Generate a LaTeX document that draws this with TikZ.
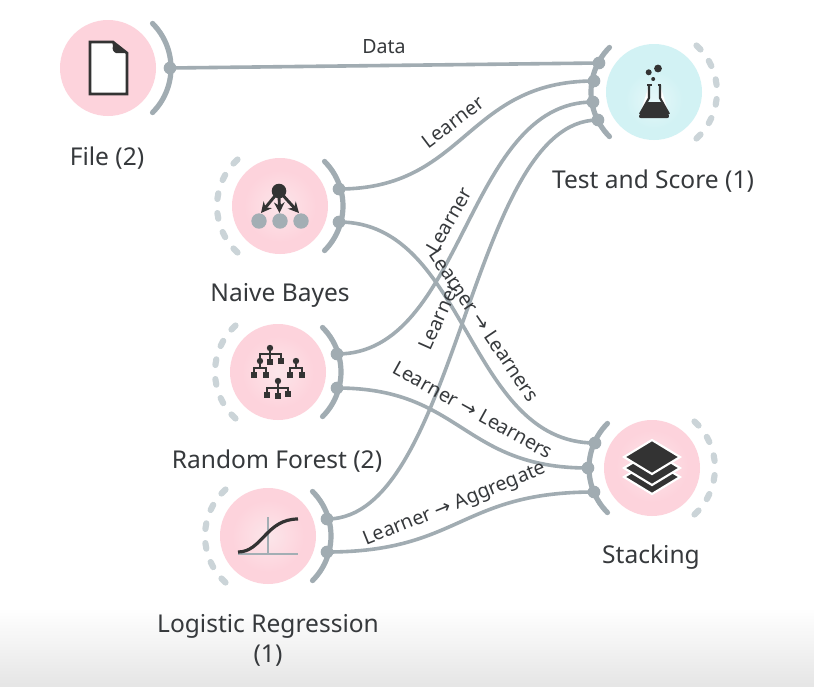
\documentclass[tikz,border=0pt]{standalone}
\usepackage{fontspec}
\usetikzlibrary{arrows.meta}
\setmainfont{Noto Sans}
\newfontfamily\arrowfont{DejaVu Sans}
\definecolor{pinkc}{HTML}{FDD3DC}
\definecolor{pinkl}{HTML}{FCE6EA}
\definecolor{cyanc}{HTML}{D2F2F4}
\definecolor{cyanl}{HTML}{E6F8F9}
\definecolor{linec}{HTML}{A1ACB2}
\definecolor{ghostc}{HTML}{CBD4D8}
\definecolor{inkc}{HTML}{333333}
\definecolor{textc}{HTML}{36393C}
\definecolor{iconc}{HTML}{A3AEB4}
\tikzset{
  x=0.75pt,y=-0.75pt,
  bracket/.style={draw=linec,line width=3.9pt,line cap=round},
  ghost/.style={draw=ghostc,line width=4.6pt,line cap=round},
  port/.style={circle,fill=linec,inner sep=0pt,minimum size=9.5pt},
  wire/.style={draw=linec,line width=2.7pt},
  title/.style={text=textc,font=\fontsize{18.4}{22}\selectfont,align=center,inner sep=0pt},
  edgelabel/.style={text=textc,font=\fontsize{14.7}{17}\selectfont,inner sep=0pt},
  disc/.style={circle,inner sep=0pt,minimum size=72pt},
  leaf/.style={fill=inkc,draw=none},
  branch/.style={draw=inkc,line width=1pt},
  axisline/.style={draw=iconc,line width=2.2pt},
}
\newcommand\lrn{Learner {\arrowfont\char"2192} }
\newcommand\arcR[2]{\draw[bracket] plot[domain=-45:45,samples=25,smooth] ({#1+63*cos(\x)},{#2+63*sin(\x)});}
\newcommand\arcL[2]{\draw[bracket] plot[domain=135:225,samples=25,smooth] ({#1+63*cos(\x)},{#2+63*sin(\x)});}
\newcommand\ghostarc[3]{\foreach \a in {#3}{\draw[ghost] ({#1+63*cos(\a-2.6)},{#2+63*sin(\a-2.6)}) -- ({#1+63*cos(\a+2.6)},{#2+63*sin(\a+2.6)});}}
\newcommand\sq[2]{\fill[leaf] (#1-3.2,#2-3.2) rectangle (#1+3.2,#2+3.2);}
\newcommand\dotp[2]{\fill[leaf] (#1,#2) circle[radius=3.2];}
\begin{document}
\begin{tikzpicture}
\useasboundingbox (0,0) rectangle (814,686);
\fill[white] (0,0) rectangle (814,686);
\shade[top color=white,bottom color=white!90!black] (0,608) rectangle (814,686);

% discs
\node[disc,fill=pinkc] (file) at (108,68) {};
\node[disc,fill=pinkc] (nb) at (280,206) {};
\node[disc,fill=pinkc] (rf) at (278,372) {};
\node[disc,fill=pinkc] (lr) at (268,536) {};
\node[disc,fill=cyanc] (ts) at (654,92) {};
\node[disc,fill=pinkc] (st) at (652,468) {};
\shade[inner color=pinkl,outer color=pinkc] (280,206) circle[radius=36];
\shade[inner color=pinkl,outer color=pinkc] (278,372) circle[radius=36];
\shade[inner color=pinkl,outer color=pinkc] (268,536) circle[radius=36];
\shade[inner color=cyanl,outer color=cyanc] (654,100) circle[radius=29];
\shade[inner color=pinkl,outer color=pinkc] (652,466) circle[radius=36];

% brackets
\arcR{108}{68}
\arcR{280}{206}
\arcR{278}{372}
\arcR{268}{536}
\arcL{654}{92}
\arcL{652}{468}
\ghostarc{280}{206}{135,153,171,189,207,225}
\ghostarc{278}{372}{135,153,171,189,207,225}
\ghostarc{268}{536}{135,153,171,189,207,225}
\ghostarc{654}{92}{-45,-27,-9,9,27,45}
\ghostarc{652}{468}{-45,-27,-9,9,27,45}

% ports
\node[port] (fileout) at (170,68) {};
\node[port] (nbone) at (339,189) {};
\node[port] (nbtwo) at (339,222) {};
\node[port] (rfone) at (337,354) {};
\node[port] (rftwo) at (337,388) {};
\node[port] (lrone) at (327,519) {};
\node[port] (lrtwo) at (327,552) {};
\node[port] (tsa) at (599,63) {};
\node[port] (tsb) at (594,81) {};
\node[port] (tsc) at (593,102) {};
\node[port] (tsd) at (598,120) {};
\node[port] (sta) at (595,443) {};
\node[port] (stb) at (588,468) {};
\node[port] (stc) at (594,492) {};

% connectors
\draw[wire] (fileout.center) -- (tsa.center);
\draw[wire] (nbone.center) .. controls (466,189) and (466,81) .. (tsb.center);
\draw[wire] (rfone.center) .. controls (465,354) and (465,102) .. (tsc.center);
\draw[wire] (lrone.center) .. controls (458,519) and (470,120) .. (tsd.center);
\draw[wire] (nbtwo.center) .. controls (467,222) and (467,443) .. (sta.center);
\draw[wire] (rftwo.center) .. controls (462,388) and (462,468) .. (stb.center);
\draw[wire] (lrtwo.center) .. controls (460,552) and (460,492) .. (stc.center);

% connector labels
\node[edgelabel] (ldata) at (384,47) {Data};
\node[edgelabel,rotate=37] (lnb) at (453,122) {Learner};
\node[edgelabel,rotate=60] (lrf) at (449,220) {Learner};
\node[edgelabel,rotate=-56] (lnbst) at (484,325) {\lrn Learners};
\node[edgelabel,rotate=66] (llr) at (439,316) {Learner};
\node[edgelabel,rotate=-29] (lrfst) at (473,410) {\lrn Learners};
\node[edgelabel,rotate=22] (lagg) at (455,505) {\lrn Aggregate};

% titles
\node[title] (tfile) at (107,158) {File (2)};
\node[title] (tnb) at (280,295) {Naive Bayes};
\node[title] (trf) at (277,461) {Random Forest (2)};
\node[title] (tlr) at (268,640) {Logistic Regression\\[0.6pt](1)};
\node[title] (tts) at (653,181) {Test and Score (1)};
\node[title] (tst) at (651,557) {Stacking};

% file icon
\draw[fill=white,draw=inkc,line width=2pt,line join=miter] (90,42) -- (113,42) -- (127,53) -- (127,94) -- (90,94) -- cycle;
\fill[inkc] (112,41) -- (128,53) -- (116,53) .. controls (113,52) and (112,49) .. (113,46) -- cycle;

% naive bayes icon
\fill[iconc] (259,221) circle[radius=7.7] (280,221) circle[radius=7.7] (301,221) circle[radius=7.7];
\draw[inkc,line width=2.2pt,-{Stealth[length=8pt,width=8pt]}] (279,191) -- (261,213);
\draw[inkc,line width=2.2pt,-{Stealth[length=8pt,width=8pt]}] (279,191) -- (279.5,213);
\draw[inkc,line width=2.2pt,-{Stealth[length=8pt,width=8pt]}] (279,191) -- (299,213);
\fill[inkc] (279,191) circle[radius=7.3];

% random forest icon
\draw[branch] (270,348) -- (270,362) (260,361) -- (260,354) -- (281,354) -- (281,361);
\draw[branch] (260,361) -- (260,368) (254,375) -- (254,368) -- (266,368) -- (266,375);
\draw[branch] (296,361) -- (296,368) (290,375) -- (290,368) -- (302,368) -- (302,375);
\draw[branch] (278,381) -- (278,396) (267,395) -- (267,388) -- (288,388) -- (288,394);
\dotp{270}{348}\dotp{260}{361}\dotp{296}{361}\dotp{278}{381}
\sq{270}{362}\sq{281}{361}\sq{254}{375}\sq{266}{375}\sq{290}{375}\sq{302}{375}\sq{267}{395}\sq{278}{396}\sq{288}{394}

% logistic regression icon
\draw[axisline] (268,517) -- (268,554) (238,554) -- (298,554);
\draw[inkc,line width=2.4pt] (238,552) .. controls (262,552) and (266,519) .. (298,519);

% flask icon
\draw[draw=inkc,fill=white,line width=1.6pt] (649,85) -- (649,98) -- (640,114) (660,85) -- (660,98) -- (669,114);
\fill[inkc,rounded corners=2pt] (646,102) -- (663,102) -- (670,118) -- (638,118) -- cycle;
\fill[inkc] (658,68.5) circle[radius=3.9] (648.7,72.3) circle[radius=3] (653.2,79) circle[radius=2];
\draw[inkc,line width=1.4pt] (647,85.2) -- (652,85.2) (657.5,85.2) -- (661,85.2);

% stacking icon
\foreach \o in {20,11,0}{
  \draw[white,fill=inkc,line width=1.6pt,line join=miter] (652,440+\o) -- (680,457+\o) -- (652,474+\o) -- (624,457+\o) -- cycle;
}
\end{tikzpicture}
\end{document}
